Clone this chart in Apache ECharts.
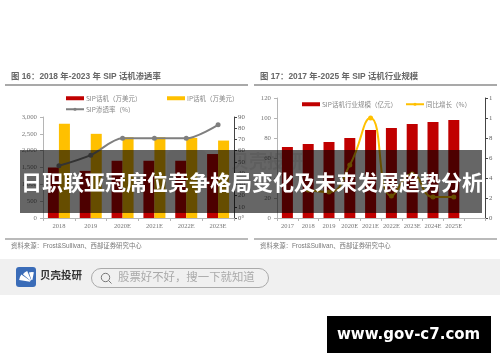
<!DOCTYPE html>
<html><head><meta charset="utf-8">
<style>html,body{margin:0;padding:0;background:#fff;width:500px;height:362px;overflow:hidden}
#base,#top{position:absolute;left:0;top:0;width:500px;height:362px}
#base{filter:blur(0.6px)}</style>
<script src="https://cdn.jsdelivr.net/npm/echarts@6/dist/echarts.min.js"></script>
</head><body><div id="base"></div><div id="top"></div>
<script>
const leftCats=['2018','2019','2020E','2021E','2022E','2023E'];
const sipRevenue=[1500,1400,1700,1700,1700,1900];
const ipRevenue=[2800,2500,2400,2400,2380,2300];
const sipRate=[46.5,56,71,71,71,83];
const leftAxisTicks=['0','500','1,000','1,500','2,000','2,500','3,000'];
const rateTicks=['0°','10','20','30','40','50','60','70','80','90'];
const rightCats=['2017','2018','2019','2020E','2021E','2022E','2023E','2024E','2025E',''];
const marketSize=[71,74,76,80,88,90,94,96,98,null];
const growth=[null,2.8,2.6,5.3,10,2.2,4.4,2.1,2.1,null];
const sizeTicks=['0','20','40','60','80','100','120'];
const growthTicks=['0','2','4','6','8','1','1'];
const S1='SIP话机（万美元）',S2='IP话机（万美元）',S3='SIP渗透率（%）',S4='SIP话机行业规模（亿元）',S5='同比增长（%）';
const titleLeft='图 16：2018 年-2023 年 SIP 话机渗透率';
const titleRight='图 17：2017 年-2025 年 SIP 话机行业规模';
const source='资料来源：Frost&Sullivan、西部证券研究中心';
const banner='日职联亚冠席位竞争格局变化及未来发展趋势分析';
const serif='"Liberation Serif","Noto Sans CJK SC",serif';
const sans='"Liberation Sans","Noto Sans CJK SC",sans-serif';
const lab={fontFamily:serif,fontSize:6.8,color:'#777'};
const lightLine={lineStyle:{color:'#b5b5b5',width:1}};
const darkLine={lineStyle:{color:'#444',width:1}};
function xA(i,d){return {type:'category',gridIndex:i,data:d,axisLine:{show:true,...lightLine},
  axisTick:{show:true,length:3,alignWithLabel:false,...lightLine},axisLabel:{...lab,fontSize:6.5,margin:5,interval:0}};}
function yL(i,max,step,t){return {type:'value',gridIndex:i,min:0,max:max,interval:step,splitLine:{show:false},
  axisLine:{show:true,...lightLine},axisTick:{show:true,length:3,...lightLine},
  axisLabel:{...lab,margin:6,formatter:v=>t[Math.round(v/step)]}};}
function yR(i,max,step,t){return {type:'value',gridIndex:i,position:'right',min:0,max:max,interval:step,splitLine:{show:false},
  axisLine:{show:true,...darkLine},axisTick:{show:true,length:3,...darkLine},
  axisLabel:{...lab,margin:4,color:'#666',formatter:v=>t[Math.round(v/step)]}};}
function leg(name,left,top,icon){const o={data:[{name:name,icon:icon}],left:left,top:top,itemWidth:18,itemHeight:4,padding:0,
  textStyle:{fontFamily:'"Noto Sans CJK SC",serif',fontSize:6.5,color:'#888',padding:[0,0,0,-3]}};return o;}
const base=echarts.init(document.getElementById('base'),null,{renderer:'canvas'});
base.setOption({animation:false,backgroundColor:'#fff',
 grid:[{left:43,right:266,top:117,bottom:144},{left:277,right:15,top:98,bottom:144}],
 xAxis:[xA(0,leftCats),xA(1,rightCats)],
 yAxis:[yL(0,3000,500,leftAxisTicks),yR(0,90,10,rateTicks),yL(1,120,20,sizeTicks),yR(1,12,2,growthTicks)],
 legend:[leg(S1,66,95,'rect'),leg(S2,167,95,'rect'),leg(S3,65,106),leg(S4,302,101,'rect'),leg(S5,405,101)],
 series:[
  {name:S1,type:'bar',xAxisIndex:0,yAxisIndex:0,data:sipRevenue,barWidth:11,barGap:'0%',itemStyle:{color:'#c00000'}},
  {name:S2,type:'bar',xAxisIndex:0,yAxisIndex:0,data:ipRevenue,barWidth:11,barGap:'0%',itemStyle:{color:'#ffc000'}},
  {name:S3,type:'line',xAxisIndex:0,yAxisIndex:1,data:sipRate,smooth:0.3,symbol:'circle',symbolSize:5,
   lineStyle:{color:'#7f7f7f',width:2},itemStyle:{color:'#7f7f7f'}},
  {name:S4,type:'bar',xAxisIndex:1,yAxisIndex:2,data:marketSize,barWidth:11,itemStyle:{color:'#c00000'}},
  {name:S5,type:'line',xAxisIndex:1,yAxisIndex:3,data:growth,smooth:0.5,symbol:'circle',symbolSize:5,
   lineStyle:{color:'#ffc000',width:2},itemStyle:{color:'#ffc000'}}
 ],
 graphic:[
  {type:'text',left:11,top:72,style:{text:titleLeft,font:'bold 8.4px '+sans,fill:'#666'}},
  {type:'text',left:260,top:72,style:{text:titleRight,font:'bold 8.4px '+sans,fill:'#666'}},
  {type:'rect',shape:{x:5,y:84.5,width:243,height:1},style:{fill:'#555'}},
  {type:'rect',shape:{x:254,y:84.5,width:243,height:1},style:{fill:'#555'}},
  {type:'rect',shape:{x:5,y:238.5,width:243,height:1},style:{fill:'#777'}},
  {type:'rect',shape:{x:254,y:238.5,width:243,height:1},style:{fill:'#777'}},
  {type:'text',left:11,top:243,style:{text:source,font:'6.4px '+sans,fill:'#777'}},
  {type:'text',left:260,top:243,style:{text:source,font:'6.4px '+sans,fill:'#777'}},
  {type:'rect',z:-1,shape:{x:167,y:150,width:40,height:30,r:6},style:{fill:'rgba(120,120,120,0.07)'}},
  {type:'text',z:-1,left:231,top:152,style:{text:'贝壳投研',font:'bold 18px "Noto Sans CJK SC"',fill:'rgba(120,120,120,0.14)'}}
 ]});
const top_=echarts.init(document.getElementById('top'),null,{renderer:'canvas'});
top_.setOption({animation:false,backgroundColor:'transparent',
 graphic:[
  {type:'rect',shape:{x:20,y:150,width:462,height:63},style:{fill:'rgba(0,0,0,0.6)'}},
  {type:'text',left:21,top:172,style:{text:banner,font:'bold 21px "Noto Sans CJK SC"',fill:'#fff'}},
  {type:'rect',shape:{x:0,y:259,width:500,height:36},style:{fill:'#f0f0f0'}},
  {type:'rect',shape:{x:16,y:267,width:20,height:20,r:3},style:{fill:'#3a6cb8'}},
  {type:'sector',shape:{cx:32,cy:282,r0:2,r:13,startAngle:3.3,endAngle:3.75},style:{fill:'#fff'}},
  {type:'sector',shape:{cx:32,cy:282,r0:2,r:12,startAngle:3.85,endAngle:4.3},style:{fill:'#fff'}},
  {type:'sector',shape:{cx:32,cy:282,r0:2,r:10,startAngle:4.4,endAngle:4.9},style:{fill:'#fff'}},
  {type:'text',left:40,top:270,style:{text:'贝壳投研',font:'bold 10.5px "Noto Sans CJK SC"',fill:'#333'}},
  {type:'rect',shape:{x:91.5,y:268.5,width:177,height:19,r:9.5},style:{fill:'none',stroke:'#aaa',lineWidth:1}},
  {type:'circle',shape:{cx:105.5,cy:277.5,r:4.2},style:{fill:'none',stroke:'#777',lineWidth:1}},
  {type:'line',shape:{x1:108.5,y1:280.5,x2:111.5,y2:283.5},style:{stroke:'#777',lineWidth:1}},
  {type:'text',left:118,top:271,style:{text:'股票好不好，搜一下就知道',font:'11.4px "Noto Sans CJK SC"',fill:'#aaa'}},
  {type:'rect',shape:{x:327,y:316,width:164,height:37},style:{fill:'#000'}},
  {type:'text',left:337,top:328,style:{text:'www.gov-c7.com',font:'bold 15px "DejaVu Sans"',fill:'#fff'}}
 ]});
</script></body></html>
